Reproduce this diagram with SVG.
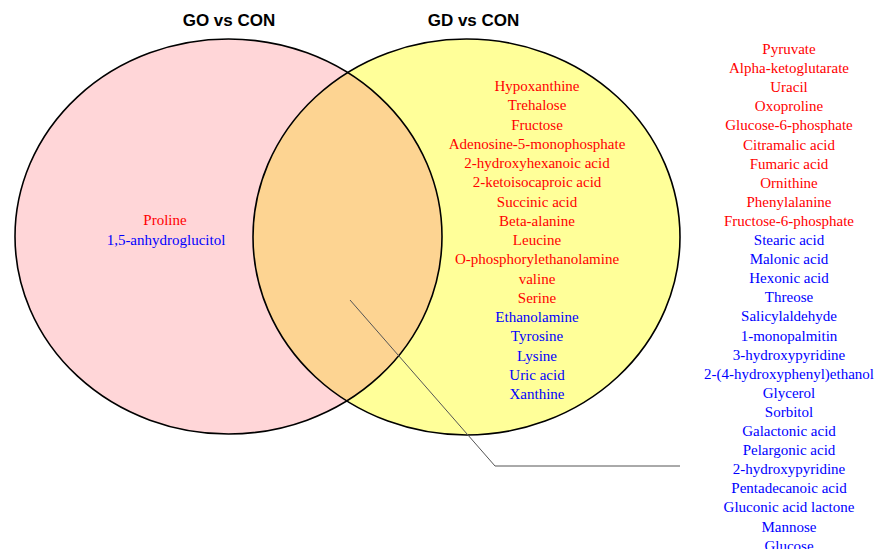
<svg xmlns="http://www.w3.org/2000/svg" width="875" height="549" viewBox="0 0 875 549">
<style>
.title{font-family:"Liberation Sans",Arial,sans-serif;font-weight:bold;font-size:17px;fill:#000;text-anchor:middle}
.t{font-family:"Liberation Serif","Times New Roman",serif;font-size:15px;text-anchor:middle}
.r{fill:#ff0000}
.b{fill:#0000ff}
.edge{fill:none;stroke:#000;stroke-width:1.6}
.conn{fill:none;stroke:#555;stroke-width:1}
</style>
<defs>
<clipPath id="clipL"><ellipse cx="228.5" cy="236.5" rx="213.5" ry="197.5"/></clipPath>
</defs>
<rect width="875" height="549" fill="#fff"/>
<g id="setGO">
<ellipse cx="228.5" cy="236.5" rx="213.5" ry="197.5" fill="#ffd6d8"/>
</g>
<g id="setGD">
<ellipse cx="466.5" cy="237" rx="213.5" ry="198" fill="#ffff99"/>
</g>
<g id="overlap">
<ellipse cx="466.5" cy="237" rx="213.5" ry="198" fill="#fdd492" clip-path="url(#clipL)"/>
</g>
<g id="outlines">
<ellipse class="edge" cx="228.5" cy="236.5" rx="213.5" ry="197.5"/>
<ellipse class="edge" cx="466.5" cy="237" rx="213.5" ry="198"/>
</g>
<g id="titles">
<text class="title" x="229" y="26">GO vs CON</text>
<text class="title" x="473.5" y="26">GD vs CON</text>
</g>
<g id="goOnly">
<text class="t r" x="165" y="225">Proline</text>
<text class="t b" x="166" y="245">1,5-anhydroglucitol</text>
</g>
<g id="gdOnly">
<text class="t r" x="537" y="91">Hypoxanthine</text>
<text class="t r" x="537" y="110.25">Trehalose</text>
<text class="t r" x="537" y="129.5">Fructose</text>
<text class="t r" x="537" y="148.75">Adenosine-5-monophosphate</text>
<text class="t r" x="537" y="168">2-hydroxyhexanoic acid</text>
<text class="t r" x="537" y="187.25">2-ketoisocaproic acid</text>
<text class="t r" x="537" y="206.5">Succinic acid</text>
<text class="t r" x="537" y="225.75">Beta-alanine</text>
<text class="t r" x="537" y="245">Leucine</text>
<text class="t r" x="537" y="264.25">O-phosphorylethanolamine</text>
<text class="t r" x="537" y="283.5">valine</text>
<text class="t r" x="537" y="302.75">Serine</text>
<text class="t b" x="537" y="322">Ethanolamine</text>
<text class="t b" x="537" y="341.25">Tyrosine</text>
<text class="t b" x="537" y="360.5">Lysine</text>
<text class="t b" x="537" y="379.75">Uric acid</text>
<text class="t b" x="537" y="399">Xanthine</text>
</g>
<g id="commonList">
<text class="t r" x="789" y="54">Pyruvate</text>
<text class="t r" x="789" y="73.1">Alpha-ketoglutarate</text>
<text class="t r" x="789" y="92.2">Uracil</text>
<text class="t r" x="789" y="111.3">Oxoproline</text>
<text class="t r" x="789" y="130.4">Glucose-6-phosphate</text>
<text class="t r" x="789" y="149.5">Citramalic acid</text>
<text class="t r" x="789" y="168.6">Fumaric acid</text>
<text class="t r" x="789" y="187.7">Ornithine</text>
<text class="t r" x="789" y="206.8">Phenylalanine</text>
<text class="t r" x="789" y="225.9">Fructose-6-phosphate</text>
<text class="t b" x="789" y="245">Stearic acid</text>
<text class="t b" x="789" y="264.1">Malonic acid</text>
<text class="t b" x="789" y="283.2">Hexonic acid</text>
<text class="t b" x="789" y="302.3">Threose</text>
<text class="t b" x="789" y="321.4">Salicylaldehyde</text>
<text class="t b" x="789" y="340.5">1-monopalmitin</text>
<text class="t b" x="789" y="359.6">3-hydroxypyridine</text>
<text class="t b" x="789" y="378.7">2-(4-hydroxyphenyl)ethanol</text>
<text class="t b" x="789" y="397.8">Glycerol</text>
<text class="t b" x="789" y="416.9">Sorbitol</text>
<text class="t b" x="789" y="436">Galactonic acid</text>
<text class="t b" x="789" y="455.1">Pelargonic acid</text>
<text class="t b" x="789" y="474.2">2-hydroxypyridine</text>
<text class="t b" x="789" y="493.3">Pentadecanoic acid</text>
<text class="t b" x="789" y="512.4">Gluconic acid lactone</text>
<text class="t b" x="789" y="531.5">Mannose</text>
<text class="t b" x="789" y="550.6">Glucose</text>
</g>
<g id="connectors">
<polyline class="conn" points="350,300 495,466 680,466"/>
</g>
</svg>
